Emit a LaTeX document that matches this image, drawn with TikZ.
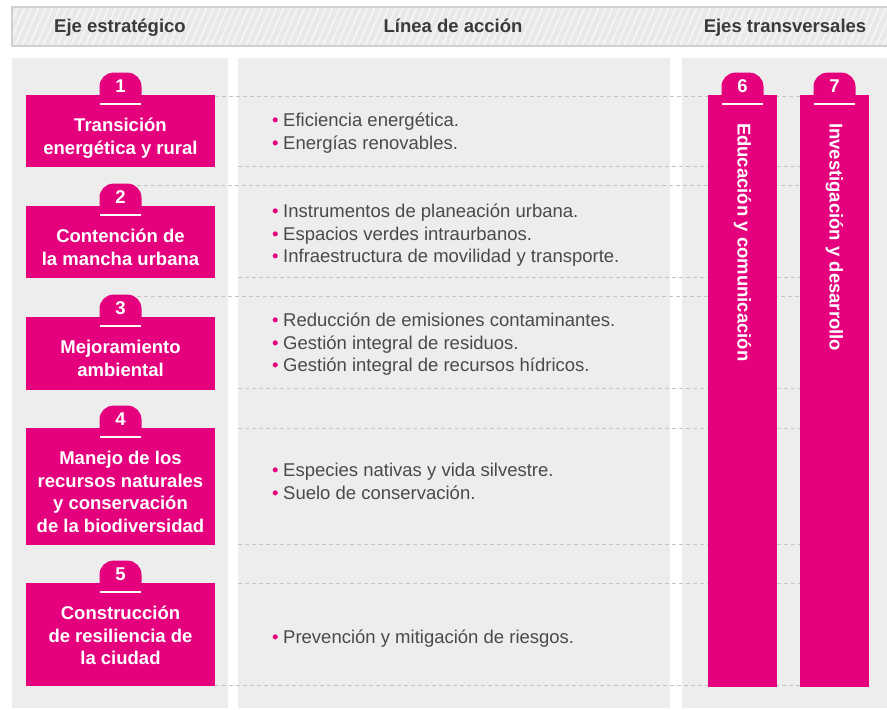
\documentclass[tikz,border=0pt]{standalone}
\usepackage{fontspec}
\setmainfont{Liberation Sans}
\usetikzlibrary{positioning}

\definecolor{rosa}{HTML}{E5007D}
\definecolor{panel}{HTML}{EDEDED}
\definecolor{gristxt}{HTML}{4A4A4A}
\definecolor{titgris}{HTML}{3A3A3A}
\definecolor{linea}{HTML}{C4C4C4}
\definecolor{cabeza}{HTML}{E9E9E9}
\definecolor{marcogris}{HTML}{CFCFCF}

\newcommand{\tope}{\rule{0pt}{18pt}}
\newcommand{\pto}{{\color{rosa}\textbullet}\hspace{4.5pt}}

\tikzset{
  eje/.style={fill=rosa, inner sep=0pt, minimum width=189pt},
  transv/.style={fill=rosa, inner sep=0pt, minimum width=69pt, minimum height=592pt},
  tab/.style={fill=rosa, rounded corners=14pt, minimum width=42pt, minimum height=36pt, inner sep=0pt},
  num/.style={text=white, inner sep=0pt, font=\fontsize{18.5}{20}\selectfont\bfseries},
  regla/.style={white, line width=1.6pt},
  ejetxt/.style={text=white, inner sep=0pt, align=center, font=\fontsize{18.5}{22.5}\selectfont\bfseries},
  accion/.style={text=gristxt, inner sep=0pt, align=left, anchor=north west, font=\fontsize{18.5}{22.5}\selectfont},
  titulo/.style={text=titgris, inner sep=0pt, anchor=base, font=\fontsize{18.5}{20}\selectfont\bfseries},
  guia/.style={linea, dash pattern=on 4pt off 3pt, line width=1pt},
  marco/.style={marcogris, line width=1.5pt},
}

\begin{document}
\begin{tikzpicture}[x=1pt, y=-1pt]
  \useasboundingbox (0,0) rectangle (887,710);
  \fill[white] (0,0) rectangle (887,710);

  % encabezado rayado
  \begin{scope}
    \clip (12,7) rectangle (887,46);
    \fill[cabeza] (12,7) rectangle (887,46);
    \foreach \i in {-20,-13,...,900}
      \draw[white!70!cabeza, line width=1.3pt] (\i,46) -- ++(17,-39);
  \end{scope}
  \draw[marco] (900,7) -- (12,7) -- (12,46) -- (900,46);
  \node[titulo] (h1) at (120,32.5) {Eje estratégico};
  \node[titulo] (h2) at (453,32.5) {Línea de acción};
  \node[titulo] (h3) at (785,32.5) {Ejes transversales};

  % paneles
  \fill[panel] (12,58) rectangle (228,708);
  \fill[panel] (238,58) rectangle (670,708);
  \fill[panel] (682,58) rectangle (887,708);

  % guias punteadas
  \foreach \y/\x in {96/215,166/238,185/137,277/238,296/137,388/238,428/238,544/238,583/238,685/215}
    \draw[guia] (\x,\y) -- (800,\y);

  % ejes estrategicos
  \node[eje, minimum height=72pt] (e1) at (120.5,131) {};
  \node[eje, minimum height=72pt] (e2) at (120.5,242) {};
  \node[eje, minimum height=73pt] (e3) at (120.5,353.5) {};
  \node[eje, minimum height=117pt] (e4) at (120.5,486.5) {};
  \node[eje, minimum height=103pt] (e5) at (120.5,634.5) {};
  % ejes transversales
  \node[transv] (e6) at (742.5,391) {};
  \node[transv] (e7) at (834.5,391) {};

  \foreach \n/\k in {e1/1,e2/2,e3/3,e4/4,e5/5,e6/6,e7/7} {
    \node[tab, above=-14pt of \n.north] (tab\k) {};
    \node[num] (num\k) at ([yshift=9pt]\n.north) {\k};
    \draw[regla] ([xshift=-20.5pt, yshift=-9pt]\n.north) -- ([xshift=20.5pt, yshift=-9pt]\n.north);
  }

  \node[ejetxt, below=18.5pt of e1.north] (t1) {\tope Transición\\energética y rural};
  \node[ejetxt, below=18.5pt of e2.north] (t2) {\tope Contención de\\la mancha urbana};
  \node[ejetxt, below=18.5pt of e3.north] (t3) {\tope Mejoramiento\\ambiental};
  \node[ejetxt, below=18.5pt of e4.north] (t4) {\tope Manejo de los\\recursos naturales\\y conservación\\de la biodiversidad};
  \node[ejetxt, below=18.5pt of e5.north] (t5) {\tope Construcción\\de resiliencia de\\la ciudad};
  \node[ejetxt, rotate=-90, anchor=west] (t6) at ([yshift=-28pt]e6.north) {Educación y comunicación};
  \node[ejetxt, rotate=-90, anchor=west] (t7) at ([yshift=-28pt]e7.north) {Investigación y desarrollo};

  % lineas de accion
  \node[accion] (l1) at (272,108.5) {\tope\pto Eficiencia energética.\\\pto Energías renovables.};
  \node[accion] (l2) at (272,199.5) {\tope\pto Instrumentos de planeación urbana.\\\pto Espacios verdes intraurbanos.\\\pto Infraestructura de movilidad y transporte.};
  \node[accion] (l3) at (272,308.5) {\tope\pto Reducción de emisiones contaminantes.\\\pto Gestión integral de residuos.\\\pto Gestión integral de recursos hídricos.};
  \node[accion] (l4) at (272,458.5) {\tope\pto Especies nativas y vida silvestre.\\\pto Suelo de conservación.};
  \node[accion] (l5) at (272,625.5) {\tope\pto Prevención y mitigación de riesgos.};
\end{tikzpicture}
\end{document}
